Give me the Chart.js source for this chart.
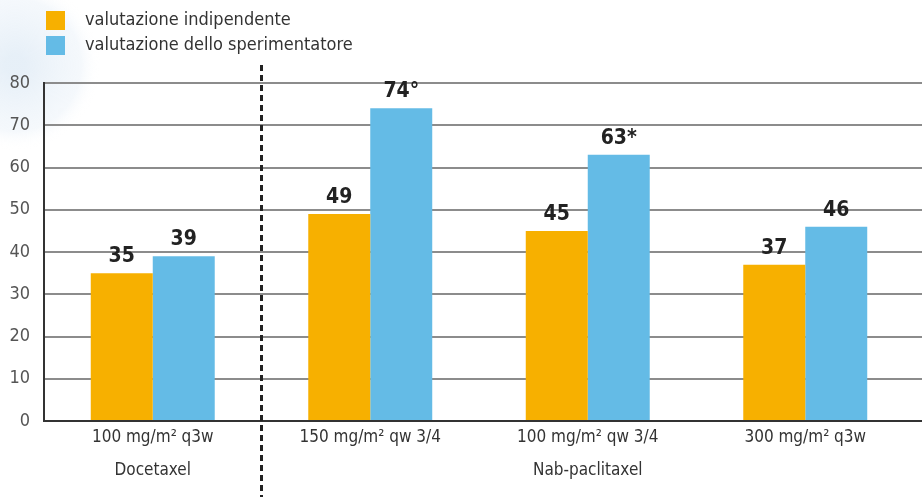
<!DOCTYPE html>
<html>
<head>
<meta charset="utf-8">
<script src="https://cdn.jsdelivr.net/npm/chart.js@4/dist/chart.umd.min.js"></script>
<style>
  html, body { margin: 0; padding: 0; background: #ffffff; }
  #wrap { width: 922px; height: 497px; position: relative; }
</style>
</head>
<body>
<div id="wrap"><canvas id="c" width="922" height="497"></canvas></div>
<script>
// Dose schedules (first label line) and drug group (second line)
const doses = ['100 mg/m² q3w', '150 mg/m² qw 3/4', '100 mg/m² qw 3/4', '300 mg/m² q3w'];
const drugs = ['Docetaxel', '', 'Nab-paclitaxel', ''];

const seriesNames = ['valutazione indipendente', 'valutazione dello sperimentatore'];
const independent = [35, 49, 45, 37];
const investigator = [39, 74, 63, 46];
// printed values above bars (with footnote marks)
const independentLabels = ['35', '49', '45', '37'];
const investigatorLabels = ['39', '74°', '63*', '46'];

const yTicks = [0, 10, 20, 30, 40, 50, 60, 70, 80];

const ORANGE = '#F7B000';
const BLUE = '#64BBE6';
const NARROW = "'Liberation Sans Narrow', 'Arial Narrow', 'DejaVu Sans Condensed', sans-serif";

const labels = doses.map((d, i) => [d, drugs[i]]);

// soft background disc, gridline run-out, custom legend, dashed separator and value labels
const decor = {
  id: 'decor',
  beforeDraw(chart) {
    const ctx = chart.ctx;
    ctx.save();
    const g = ctx.createRadialGradient(15, 65, 10, 15, 65, 85);
    g.addColorStop(0, 'rgba(228,238,247,0.9)');
    g.addColorStop(0.75, 'rgba(238,244,250,0.6)');
    g.addColorStop(1, 'rgba(255,255,255,0)');
    ctx.fillStyle = g;
    ctx.fillRect(0, 0, 140, 160);
    ctx.restore();
  },
  beforeDatasetsDraw(chart) {
    // horizontal grid continues to the right edge of the canvas
    const ctx = chart.ctx;
    const ys = chart.scales.y;
    const area = chart.chartArea;
    ctx.save();
    ctx.strokeStyle = '#8c8c8c';
    ctx.lineWidth = 2;
    yTicks.forEach(v => {
      if (v === 0) return;
      const y = Math.round(ys.getPixelForValue(v));
      ctx.beginPath();
      ctx.moveTo(area.right, y);
      ctx.lineTo(chart.width, y);
      ctx.stroke();
    });
    ctx.strokeStyle = '#333333';
    const y0 = ys.getPixelForValue(0);
    ctx.beginPath();
    ctx.moveTo(area.right, y0);
    ctx.lineTo(chart.width, y0);
    ctx.stroke();
    ctx.restore();
  },
  afterDraw(chart) {
    const ctx = chart.ctx;
    const xs = chart.scales.x;
    ctx.save();
    // legend
    const colors = [ORANGE, BLUE];
    ctx.font = '18px ' + NARROW;
    ctx.textBaseline = 'middle';
    ctx.textAlign = 'left';
    seriesNames.forEach((name, i) => {
      const y = 11 + i * 25;
      ctx.fillStyle = colors[i];
      ctx.fillRect(46, y, 19, 19);
      ctx.fillStyle = '#333333';
      ctx.fillText(name, 85, y + 9);
    });
    // dashed separator between Docetaxel and Nab-paclitaxel groups
    const sx = (xs.getPixelForValue(0) + xs.getPixelForValue(1)) / 2;
    ctx.strokeStyle = '#222222';
    ctx.lineWidth = 3;
    ctx.setLineDash([6, 4]);
    ctx.beginPath();
    ctx.moveTo(sx, 65);
    ctx.lineTo(sx, chart.height);
    ctx.stroke();
    ctx.setLineDash([]);
    // value labels
    ctx.font = 'bold 21px ' + NARROW;
    ctx.fillStyle = '#222222';
    ctx.textAlign = 'center';
    ctx.textBaseline = 'bottom';
    const txt = [independentLabels, investigatorLabels];
    chart.data.datasets.forEach((ds, di) => {
      chart.getDatasetMeta(di).data.forEach((bar, i) => {
        ctx.fillText(txt[di][i], bar.x, bar.y - 6);
      });
    });
    ctx.restore();
  }
};

new Chart(document.getElementById('c'), {
  type: 'bar',
  data: {
    labels: labels,
    datasets: [
      { label: seriesNames[0], data: independent, backgroundColor: ORANGE },
      { label: seriesNames[1], data: investigator, backgroundColor: BLUE }
    ]
  },
  options: {
    responsive: false,
    animation: false,
    layout: { padding: { top: 83, right: 8, left: 0, bottom: 0 } },
    datasets: { bar: { categoryPercentage: 0.57, barPercentage: 1.0 } },
    plugins: { legend: { display: false }, tooltip: { enabled: false } },
    scales: {
      x: {
        grid: { display: false, drawTicks: false },
        border: { display: true, color: '#333333', width: 2 },
        ticks: {
          color: '#333333',
          font: { family: NARROW, size: 17, lineHeight: 1.95 },
          padding: 0,
          maxRotation: 0,
          autoSkip: false
        },
        afterFit(s) { s.height = 76; }
      },
      y: {
        min: 0,
        max: 80,
        afterBuildTicks(s) { s.ticks = yTicks.map(v => ({ value: v })); },
        grid: { color: '#8c8c8c', lineWidth: 2, drawTicks: false },
        border: { display: true, color: '#333333', width: 2 },
        ticks: {
          color: '#555555',
          font: { family: NARROW, size: 18 },
          padding: 14
        },
        afterFit(s) { s.width = 44; }
      }
    }
  },
  plugins: [decor]
});
</script>
</body>
</html>
